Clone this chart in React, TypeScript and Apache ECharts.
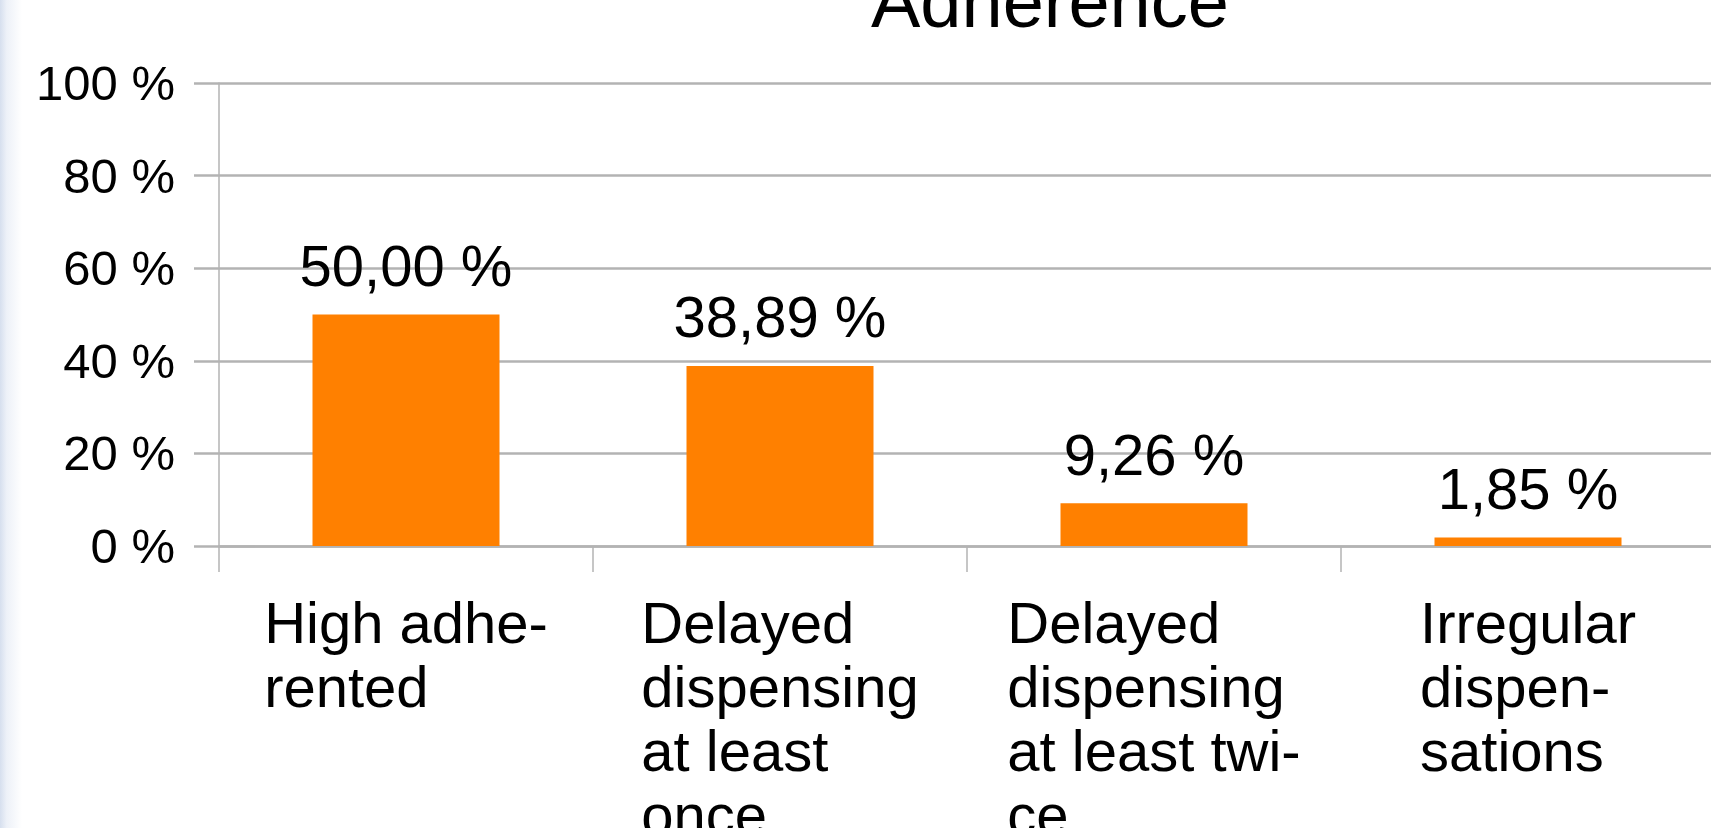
import React, { useEffect, useRef } from "react";
import * as echarts from "echarts";

const titleText = "Adherence";
const categories = [
  "High adhe-\nrented",
  "Delayed\ndispensing\nat least\nonce",
  "Delayed\ndispensing\nat least twi-\nce",
  "Irregular\ndispen-\nsations",
];
const values = [50.0, 38.89, 9.26, 1.85];
const yMin = 0;
const yMax = 100;
const yInterval = 20;

const FONT = "'Liberation Sans', Arial, sans-serif";
const GRID_COLOR = "#b3b3b3";

export default function App() {
  const ref = useRef<HTMLDivElement>(null);

  useEffect(() => {
    if (!ref.current) return;
    const chart = echarts.init(ref.current, undefined, { renderer: "svg" });
    chart.setOption({
      animation: false,
      backgroundColor: "#ffffff",
      textStyle: { fontFamily: FONT },
      title: {
        text: titleText,
        left: 866,
        top: -41,
        textStyle: { fontFamily: FONT, fontSize: 74, fontWeight: "normal", color: "#000" },
      },
      graphic: [
        {
          type: "rect",
          left: 0,
          top: 0,
          z: -1,
          shape: { width: 22, height: 828 },
          style: {
            fill: new echarts.graphic.LinearGradient(0, 0, 1, 0, [
              { offset: 0, color: "#d6dfee" },
              { offset: 0.3, color: "#edf1f8" },
              { offset: 1, color: "#ffffff" },
            ]),
          },
        },
      ],
      grid: {
        left: 219,
        right: -4,
        top: 83,
        bottom: 282,
        containLabel: false,
        outerBoundsMode: "none",
      },
      xAxis: {
        type: "category",
        data: categories,
        boundaryGap: true,
        axisLine: { show: true, lineStyle: { color: GRID_COLOR, width: 2.5 } },
        axisTick: { show: true, length: 26, lineStyle: { color: GRID_COLOR, width: 1.5 } },
        axisLabel: {
          interval: 0,
          margin: 44,
          formatter: (v: string) => `{a|${v}}`,
          rich: {
            a: {
              fontFamily: FONT,
              fontSize: 58,
              lineHeight: 64,
              color: "#000",
              align: "left",
            },
          },
        },
      },
      yAxis: {
        type: "value",
        min: yMin,
        max: yMax,
        interval: yInterval,
        axisLine: { show: true, lineStyle: { color: GRID_COLOR, width: 1.5 } },
        axisTick: { show: true, length: 25, lineStyle: { color: GRID_COLOR, width: 2.5 } },
        splitLine: { show: true, lineStyle: { color: GRID_COLOR, width: 2.5 } },
        axisLabel: {
          margin: 44,
          fontFamily: FONT,
          fontSize: 49,
          color: "#000",
          formatter: (v: number) => `${v} %`,
        },
      },
      series: [
        {
          type: "bar",
          data: values,
          barWidth: "50%",
          itemStyle: { color: "#ff8000" },
          label: {
            show: true,
            position: "top",
            distance: 20,
            fontFamily: FONT,
            fontSize: 58,
            color: "#000",
            formatter: (p: any) => `${Number(p.value).toFixed(2).replace(".", ",")} %`,
          },
        },
      ],
    });
    return () => chart.dispose();
  }, []);

  return (
    <div
      ref={ref}
      style={{ position: "fixed", left: 0, top: 0, width: 1711, height: 828, background: "#fff" }}
    />
  );
}
